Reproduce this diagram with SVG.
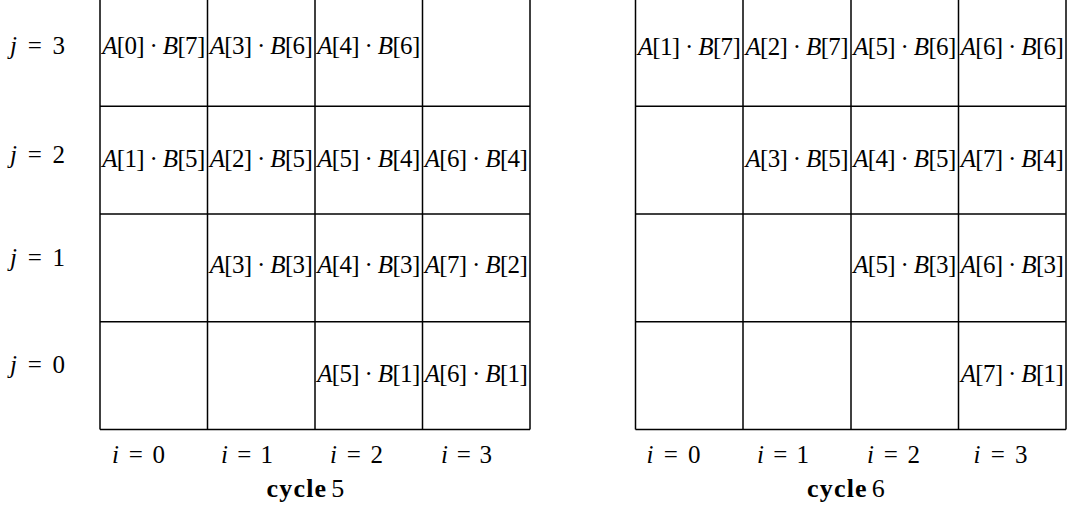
<svg xmlns="http://www.w3.org/2000/svg" width="1067" height="516" viewBox="0 0 1067 516">
<style>
text{font-family:"Liberation Serif","Times New Roman",serif;font-size:25px;fill:#000}
.c{text-anchor:middle}
.m{text-anchor:middle}
.it{font-style:italic}
.b{font-weight:bold}
.t{font-size:26px;letter-spacing:1.2px}
.g{fill:none;stroke:#000;stroke-width:1.5}
</style>
<rect width="1067" height="516" fill="#fff"/>
<g id="connectors">
<g id="grid5" class="g">
<line x1="100" y1="-2" x2="100" y2="429.5"/>
<line x1="207.5" y1="-2" x2="207.5" y2="429.5"/>
<line x1="315" y1="-2" x2="315" y2="429.5"/>
<line x1="422.5" y1="-2" x2="422.5" y2="429.5"/>
<line x1="530" y1="-2" x2="530" y2="429.5"/>
<line x1="100" y1="106.2" x2="530" y2="106.2"/>
<line x1="100" y1="214" x2="530" y2="214"/>
<line x1="100" y1="321.8" x2="530" y2="321.8"/>
<line x1="100" y1="429.5" x2="530" y2="429.5"/>
</g>
<g id="grid6" class="g">
<line x1="635.5" y1="-2" x2="635.5" y2="429.5"/>
<line x1="743" y1="-2" x2="743" y2="429.5"/>
<line x1="851" y1="-2" x2="851" y2="429.5"/>
<line x1="958.5" y1="-2" x2="958.5" y2="429.5"/>
<line x1="1066" y1="-2" x2="1066" y2="429.5"/>
<line x1="635.5" y1="106.2" x2="1066" y2="106.2"/>
<line x1="635.5" y1="214" x2="1066" y2="214"/>
<line x1="635.5" y1="321.8" x2="1066" y2="321.8"/>
<line x1="635.5" y1="429.5" x2="1066" y2="429.5"/>
</g>
</g>
<g id="jlabels">
<text x="10" y="54" textLength="55" lengthAdjust="spacing"><tspan class="it">j</tspan> = 3</text>
<text x="10" y="163" textLength="55" lengthAdjust="spacing"><tspan class="it">j</tspan> = 2</text>
<text x="10" y="266" textLength="55" lengthAdjust="spacing"><tspan class="it">j</tspan> = 1</text>
<text x="10" y="373" textLength="55" lengthAdjust="spacing"><tspan class="it">j</tspan> = 0</text>
</g>
<g id="cycle5-cells">
<text class="c" x="153.75" y="54" textLength="103" lengthAdjust="spacing"><tspan class="it">A</tspan>[0] · <tspan class="it">B</tspan>[7]</text>
<text class="c" x="261.25" y="54" textLength="103" lengthAdjust="spacing"><tspan class="it">A</tspan>[3] · <tspan class="it">B</tspan>[6]</text>
<text class="c" x="368.75" y="54" textLength="103" lengthAdjust="spacing"><tspan class="it">A</tspan>[4] · <tspan class="it">B</tspan>[6]</text>
<text class="c" x="153.75" y="167" textLength="103" lengthAdjust="spacing"><tspan class="it">A</tspan>[1] · <tspan class="it">B</tspan>[5]</text>
<text class="c" x="261.25" y="167" textLength="103" lengthAdjust="spacing"><tspan class="it">A</tspan>[2] · <tspan class="it">B</tspan>[5]</text>
<text class="c" x="368.75" y="167" textLength="103" lengthAdjust="spacing"><tspan class="it">A</tspan>[5] · <tspan class="it">B</tspan>[4]</text>
<text class="c" x="476.25" y="167" textLength="103" lengthAdjust="spacing"><tspan class="it">A</tspan>[6] · <tspan class="it">B</tspan>[4]</text>
<text class="c" x="261.25" y="273" textLength="103" lengthAdjust="spacing"><tspan class="it">A</tspan>[3] · <tspan class="it">B</tspan>[3]</text>
<text class="c" x="368.75" y="273" textLength="103" lengthAdjust="spacing"><tspan class="it">A</tspan>[4] · <tspan class="it">B</tspan>[3]</text>
<text class="c" x="476.25" y="273" textLength="103" lengthAdjust="spacing"><tspan class="it">A</tspan>[7] · <tspan class="it">B</tspan>[2]</text>
<text class="c" x="368.75" y="382" textLength="103" lengthAdjust="spacing"><tspan class="it">A</tspan>[5] · <tspan class="it">B</tspan>[1]</text>
<text class="c" x="476.25" y="382" textLength="103" lengthAdjust="spacing"><tspan class="it">A</tspan>[6] · <tspan class="it">B</tspan>[1]</text>
</g>
<g id="cycle6-cells">
<text class="c" x="689.25" y="55" textLength="103" lengthAdjust="spacing"><tspan class="it">A</tspan>[1] · <tspan class="it">B</tspan>[7]</text>
<text class="c" x="797" y="55" textLength="103" lengthAdjust="spacing"><tspan class="it">A</tspan>[2] · <tspan class="it">B</tspan>[7]</text>
<text class="c" x="904.75" y="55" textLength="103" lengthAdjust="spacing"><tspan class="it">A</tspan>[5] · <tspan class="it">B</tspan>[6]</text>
<text class="c" x="1012.25" y="55" textLength="103" lengthAdjust="spacing"><tspan class="it">A</tspan>[6] · <tspan class="it">B</tspan>[6]</text>
<text class="c" x="797" y="167" textLength="103" lengthAdjust="spacing"><tspan class="it">A</tspan>[3] · <tspan class="it">B</tspan>[5]</text>
<text class="c" x="904.75" y="167" textLength="103" lengthAdjust="spacing"><tspan class="it">A</tspan>[4] · <tspan class="it">B</tspan>[5]</text>
<text class="c" x="1012.25" y="167" textLength="103" lengthAdjust="spacing"><tspan class="it">A</tspan>[7] · <tspan class="it">B</tspan>[4]</text>
<text class="c" x="904.75" y="273" textLength="103" lengthAdjust="spacing"><tspan class="it">A</tspan>[5] · <tspan class="it">B</tspan>[3]</text>
<text class="c" x="1012.25" y="273" textLength="103" lengthAdjust="spacing"><tspan class="it">A</tspan>[6] · <tspan class="it">B</tspan>[3]</text>
<text class="c" x="1012.25" y="382" textLength="103" lengthAdjust="spacing"><tspan class="it">A</tspan>[7] · <tspan class="it">B</tspan>[1]</text>
</g>
<g id="ilabels">
<text class="m" x="138.5" y="463" textLength="53" lengthAdjust="spacing"><tspan class="it">i</tspan> = 0</text>
<text class="m" x="247" y="463" textLength="52" lengthAdjust="spacing"><tspan class="it">i</tspan> = 1</text>
<text class="m" x="356.5" y="463" textLength="53" lengthAdjust="spacing"><tspan class="it">i</tspan> = 2</text>
<text class="m" x="466.5" y="463" textLength="51" lengthAdjust="spacing"><tspan class="it">i</tspan> = 3</text>
<text class="m" x="673.5" y="463" textLength="54" lengthAdjust="spacing"><tspan class="it">i</tspan> = 0</text>
<text class="m" x="783" y="463" textLength="52" lengthAdjust="spacing"><tspan class="it">i</tspan> = 1</text>
<text class="m" x="893.5" y="463" textLength="53" lengthAdjust="spacing"><tspan class="it">i</tspan> = 2</text>
<text class="m" x="1000.5" y="463" textLength="54" lengthAdjust="spacing"><tspan class="it">i</tspan> = 3</text>
</g>
<g id="titles">
<text class="m t" x="306" y="497"><tspan class="b">cycle</tspan><tspan dx="4">5</tspan></text>
<text class="m t" x="846.5" y="497"><tspan class="b">cycle</tspan><tspan dx="4">6</tspan></text>
</g>
</svg>
